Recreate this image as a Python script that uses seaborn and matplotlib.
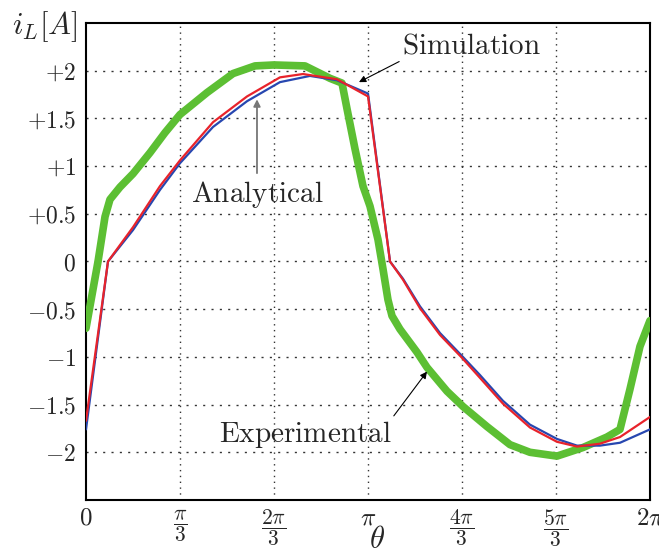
import numpy as np
import pandas as pd
import seaborn as sns
import matplotlib.pyplot as plt

# theta in rad, current in A
theta_exp = [0.000, 0.067, 0.134, 0.212, 0.267, 0.379, 0.524, 0.713, 0.880, 1.047,
             1.348, 1.638, 1.883, 2.094, 2.440, 2.718, 2.852, 2.908, 2.997, 3.086,
             3.164, 3.253, 3.309, 3.364, 3.409, 3.498, 3.687, 3.799, 4.022, 4.200,
             4.467, 4.724, 4.946, 5.247, 5.537, 5.804, 5.949, 6.060, 6.172, 6.283]
i_exp = [-0.70, -0.35, 0.00, 0.47, 0.65, 0.78, 0.92, 1.14, 1.35, 1.54,
         1.77, 1.97, 2.05, 2.06, 2.05, 1.92, 1.87, 1.60, 1.18, 0.79,
         0.58, 0.23, -0.08, -0.40, -0.57, -0.71, -0.95, -1.11, -1.36, -1.52,
         -1.73, -1.92, -2.00, -2.04, -1.95, -1.84, -1.76, -1.34, -0.89, -0.62]

theta_sim = [0.000, 0.245, 0.524, 0.824, 1.047, 1.415, 1.794, 2.161, 2.417, 2.796,
             3.142, 3.387, 3.531, 3.721, 3.944, 4.189, 4.389, 4.645, 4.946, 5.247,
             5.470, 5.726, 5.949, 6.283]
i_sim = [-1.67, 0.00, 0.36, 0.79, 1.06, 1.46, 1.73, 1.93, 1.965, 1.91,
         1.73, 0.00, -0.19, -0.49, -0.77, -1.01, -1.22, -1.49, -1.74, -1.89,
         -1.94, -1.91, -1.84, -1.63]

theta_ana = [0.000, 0.245, 0.524, 0.824, 1.047, 1.415, 1.794, 2.161, 2.495, 2.796,
             3.142, 3.387, 3.531, 3.721, 3.944, 4.189, 4.389, 4.645, 4.946, 5.247,
             5.470, 5.726, 5.949, 6.283]
i_ana = [-1.76, 0.00, 0.33, 0.75, 1.03, 1.41, 1.68, 1.88, 1.945, 1.90,
         1.76, 0.00, -0.18, -0.47, -0.75, -0.99, -1.19, -1.46, -1.71, -1.86,
         -1.93, -1.93, -1.90, -1.76]

xtick_vals = [0, np.pi/3, 2*np.pi/3, np.pi, 4*np.pi/3, 5*np.pi/3, 2*np.pi]
xtick_labels = [r'$0$', r'$\dfrac{\pi}{3}$', r'$\dfrac{2\pi}{3}$', r'$\pi$',
                r'$\dfrac{4\pi}{3}$', r'$\dfrac{5\pi}{3}$', r'$2\pi$']
ytick_vals = [2, 1.5, 1, 0.5, 0, -0.5, -1, -1.5, -2]
ytick_labels = [r'$+2$', r'$+1.5$', r'$+1$', r'$+0.5$', r'$0$',
                r'$-0.5$', r'$-1$', r'$-1.5$', r'$-2$']

sns.set_theme(style='white')
plt.rcParams['mathtext.fontset'] = 'cm'
plt.rcParams['font.family'] = ['DejaVu Serif']

fig = plt.figure(figsize=(6.59, 5.55), dpi=100)
ax = fig.add_axes([0.1305, 0.0991, 0.8558, 0.8595])

#curves
sns.lineplot(x=theta_exp, y=i_exp, color='#5cbf33', lw=5.5, sort=False,
             estimator=None, ax=ax, zorder=3)
sns.lineplot(x=theta_ana, y=i_ana, color='#2747b0', lw=1.6, sort=False,
             estimator=None, ax=ax, zorder=4)
sns.lineplot(x=theta_sim, y=i_sim, color='#e8232b', lw=1.6, sort=False,
             estimator=None, ax=ax, zorder=5)

ax.set_xlim(0, 2*np.pi)
ax.set_ylim(-2.5, 2.5)
ax.set_xticks(xtick_vals)
ax.set_xticklabels(xtick_labels, fontsize=17)
ax.set_yticks(ytick_vals)
ax.set_yticklabels(ytick_labels, fontsize=17)
ax.tick_params(axis='y', length=0, pad=7)
ax.tick_params(axis='x', length=0, pad=5)
for lab in ax.get_xticklabels():
    lab.set_verticalalignment('top')
    if 'frac' in lab.get_text():
        lab.set_fontsize(15.5)
    else:
        lab.set_fontsize(18)

#grid
for xv in xtick_vals[1:-1]:
    ax.axvline(xv, color='#333333', lw=1.0, ls=(0, (1, 3.2)), zorder=1)
for yv in ytick_vals:
    ax.axhline(yv, color='#333333', lw=1.0, ls=(0, (1.5, 4.5)), zorder=1)

for s in ax.spines.values():
    s.set_color('black')
    s.set_linewidth(1.5)

#annotations
ax.annotate(r'$\mathrm{Simulation}$', xy=(3.041, 1.88), xytext=(4.30, 2.26),
            ha='center', va='center', fontsize=21, zorder=6,
            arrowprops=dict(arrowstyle='-|>', color='black', lw=0.8,
                            relpos=(0, 0), shrinkA=0, shrinkB=0, mutation_scale=10))
ax.annotate(r'$\mathrm{Analytical}$', xy=(1.905, 1.70), xytext=(1.905, 0.70),
            ha='center', va='center', fontsize=21, zorder=6,
            arrowprops=dict(arrowstyle='-|>', color='#777777', lw=1.3,
                            relpos=(0.5, 1), shrinkA=2, shrinkB=0, mutation_scale=10))
ax.annotate(r'$\mathrm{Experimental}$', xy=(3.799, -1.154), xytext=(2.44, -1.815),
            ha='center', va='center', fontsize=21, zorder=6,
            arrowprops=dict(arrowstyle='-|>', color='black', lw=0.8,
                            relpos=(1, 1), shrinkA=0, shrinkB=0, mutation_scale=10))

fig.text(0.067, 0.953, r'$i_L[A]$', ha='center', va='center', fontsize=22)
fig.text(0.572, 0.028, r'$\theta$', ha='center', va='center', fontsize=22)

fig.savefig('out.png', dpi=100)
